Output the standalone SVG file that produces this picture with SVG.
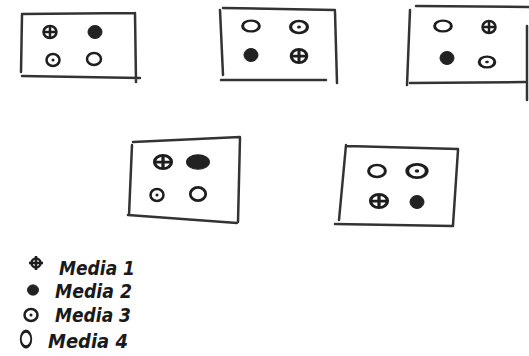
<svg xmlns="http://www.w3.org/2000/svg" width="529" height="356" viewBox="0 0 529 356">
<style>
.ln{fill:none;stroke:#333;stroke-width:2.5;stroke-linecap:round}
.sym{fill:none;stroke:#1e1e1e;stroke-width:2.5}
.fill{fill:#222;stroke:#222;stroke-width:1}
.lbl{font-family:"DejaVu Sans",sans-serif;font-style:italic;font-weight:bold;font-size:20px;fill:#1a1a1a}
</style>
<defs>
<g id="m1"><ellipse class="sym" cx="0" cy="0" rx="6.5" ry="6"/><path class="sym" d="M-6.5 0H6.5M0 -6V6" stroke-width="2"/></g>
<ellipse id="m2" class="fill" cx="0" cy="0" rx="7" ry="6.5"/>
<g id="m3"><ellipse class="sym" cx="0" cy="0" rx="6.5" ry="6"/><circle cx="0" cy="0" r="1.5" fill="#1e1e1e"/></g>
<ellipse id="m4" class="sym" cx="0" cy="0" rx="7" ry="6"/>
</defs>
<g id="panel1">
<path class="ln" d="M22 14L135 13M22 15L21 72M22 76L140 78M135 13L136 82"/>
<use href="#m1" x="50" y="32"/><use href="#m2" x="95" y="32"/>
<use href="#m3" x="53" y="60"/><use href="#m4" x="94" y="59"/>
</g>
<g id="panel2">
<path class="ln" d="M223 8L335 10M220 10L223 75M221 80L326 80M335 12L337 83"/>
<use href="#m4" x="251" y="26" transform="translate(251 26) scale(1.2 0.9) translate(-251 -26)"/>
<use href="#m3" x="299" y="27" transform="translate(299 27) scale(1.3 1) translate(-299 -27)"/>
<use href="#m2" x="251" y="55"/>
<use href="#m1" x="299" y="56" transform="translate(299 56) scale(1.2 1.1) translate(-299 -56)"/>
</g>
<g id="panel3">
<path class="ln" d="M416 6L529 7M410 10L407 85M410 83L525 82M527 26L527 100"/>
<use href="#m4" x="443" y="26" transform="translate(443 26) scale(1.2 0.9) translate(-443 -26)"/>
<use href="#m1" x="489" y="27"/>
<use href="#m2" x="447" y="58"/>
<use href="#m3" x="487" y="62" transform="translate(487 62) scale(1.2 0.9) translate(-487 -62)"/>
</g>
<g id="panel4">
<path class="ln" d="M133 142L240 137M132 145L129 215M128 215L237 223M240 138L238 222"/>
<use href="#m1" x="163" y="162" transform="translate(163 162) scale(1.3 1.1) translate(-163 -162)"/>
<use href="#m2" x="198" y="162" transform="translate(198 162) scale(1.6 1.1) translate(-198 -162)"/>
<use href="#m3" x="157" y="195"/>
<use href="#m4" x="198" y="194" transform="translate(198 194) scale(1.1 1.1) translate(-198 -194)"/>
</g>
<g id="panel5">
<path class="ln" d="M347 146L458 149M346 145L339 220M335 224L453 226M458 150L453 225"/>
<use href="#m4" x="377" y="171" transform="translate(377 171) scale(1.2 1) translate(-377 -171)"/>
<use href="#m3" x="417" y="171" transform="translate(417 171) scale(1.5 1.1) translate(-417 -171)"/>
<use href="#m1" x="379" y="201" transform="translate(379 201) scale(1.3 1.1) translate(-379 -201)"/>
<use href="#m2" x="417" y="202"/>
</g>
<g id="legend">
<circle class="sym" cx="36" cy="263" r="4.5"/>
<path class="sym" d="M29 263H43M36 256V270" stroke-width="2"/>
<use href="#m2" x="33" y="290" transform="translate(33 290) scale(0.8 0.8) translate(-33 -290)"/>
<use href="#m3" x="31" y="315"/>
<use href="#m4" x="26" y="339" transform="translate(26 339) scale(0.75 1.3) translate(-26 -339)"/>
<text class="lbl" x="59" y="275" textLength="76" lengthAdjust="spacingAndGlyphs">Media 1</text>
<text class="lbl" x="55" y="298" textLength="77" lengthAdjust="spacingAndGlyphs">Media 2</text>
<text class="lbl" x="55" y="322" textLength="76" lengthAdjust="spacingAndGlyphs">Media 3</text>
<text class="lbl" x="48" y="348" textLength="80" lengthAdjust="spacingAndGlyphs">Media 4</text>
</g>
<g id="connectors"/>
</svg>
